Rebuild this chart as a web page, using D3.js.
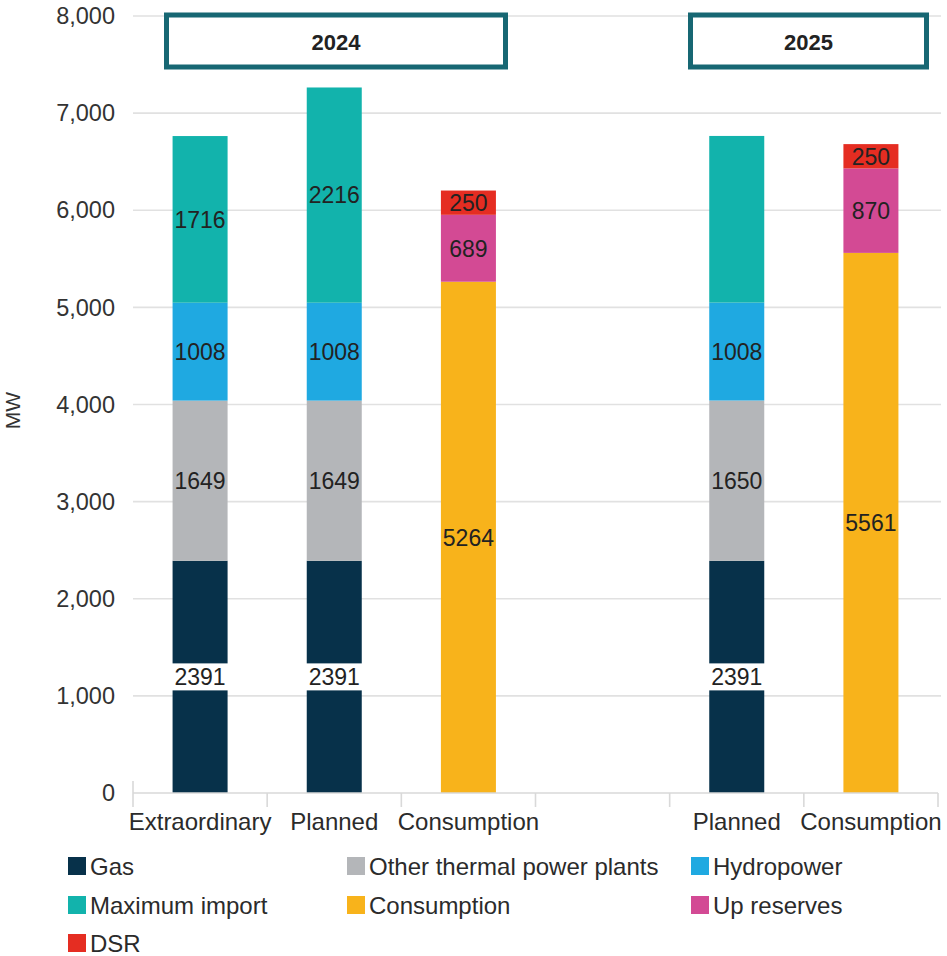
<!DOCTYPE html>
<html>
<head>
<meta charset="utf-8">
<script src="https://cdn.jsdelivr.net/npm/d3@7/dist/d3.min.js"></script>
<style>
  html, body { margin: 0; padding: 0; background: #fff; }
  svg { display: block; font-family: "Liberation Sans", Arial, sans-serif; }
</style>
</head>
<body>
<svg id="chart" width="947" height="956"></svg>
<script>
// Column categories (the fourth slot is an empty spacer between the years)
const categories = ["Extraordinary", "Planned", "Consumption", "", "Planned", "Consumption"];

// Stacked series values per column, MW
const gas          = [2391, 2391, 0, 0, 2391, 0];
const otherThermal = [1649, 1649, 0, 0, 1650, 0];
const hydropower   = [1008, 1008, 0, 0, 1008, 0];
const maxImport    = [1716, 2216, 0, 0, 1716, 0];
const consumption  = [0, 0, 5264, 0, 0, 5561];
const upReserves   = [0, 0, 689, 0, 0, 870];
const dsr          = [0, 0, 250, 0, 0, 250];

// Whether a segment carries a value label
const maxImportLabelled = [true, true, false, false, false, false];

const yTicks = [0, 1000, 2000, 3000, 4000, 5000, 6000, 7000, 8000];
const yearGroups = ["2024", "2025"];

const seriesNames = ["Gas", "Other thermal power plants", "Hydropower",
                     "Maximum import", "Consumption", "Up reserves", "DSR"];
const seriesValues = [gas, otherThermal, hydropower, maxImport, consumption, upReserves, dsr];
const colors = {
  "Gas": "#07314a",
  "Other thermal power plants": "#b4b6b9",
  "Hydropower": "#1fa9e1",
  "Maximum import": "#12b3ac",
  "Consumption": "#f8b31b",
  "Up reserves": "#d34a94",
  "DSR": "#e52d22"
};

const svg = d3.select("#chart");
const plotLeft = 133, plotRight = 938, plotTop = 16, plotBottom = 793;

const x = d3.scaleBand().domain(d3.range(categories.length)).range([plotLeft, plotRight]).paddingInner(0.59).paddingOuter(0.295);
const xTick = d3.scaleBand().domain(d3.range(categories.length)).range([plotLeft, plotRight]);
const y = d3.scaleLinear().domain([0, 8000]).range([plotBottom, plotTop]);

// Gridlines
svg.append("g").selectAll("line").data(yTicks.filter(d => d > 0)).join("line")
  .attr("x1", plotLeft).attr("x2", 941)
  .attr("y1", d => y(d)).attr("y2", d => y(d))
  .attr("stroke", "#e1e1e1").attr("stroke-width", 1.6);

// Y axis tick labels
svg.append("g").selectAll("text").data(yTicks).join("text")
  .attr("x", 115).attr("y", d => y(d)).attr("dy", "0.35em")
  .attr("text-anchor", "end").attr("font-size", 23.5).attr("fill", "#333")
  .text(d => d3.format(",")(d));

svg.append("text")
  .attr("transform", `translate(20,${y(4000) + 6}) rotate(-90)`)
  .attr("text-anchor", "middle").attr("font-size", 21).attr("fill", "#333")
  .text("MW");

// Stack
const rows = categories.map((c, i) => {
  const r = { i };
  seriesNames.forEach((s, k) => r[s] = seriesValues[k][i]);
  return r;
});
const stacked = d3.stack().keys(seriesNames)(rows);

const bars = svg.append("g");
stacked.forEach(layer => {
  bars.append("g").attr("fill", colors[layer.key])
    .selectAll("rect").data(layer.filter(d => d[1] - d[0] > 0)).join("rect")
    .attr("x", d => x(d.data.i)).attr("width", x.bandwidth())
    .attr("y", d => y(d[1])).attr("height", d => y(d[0]) - y(d[1]));
});

// Value labels
const labels = svg.append("g").attr("font-size", 23).attr("fill", "#222").attr("text-anchor", "middle");
stacked.forEach(layer => {
  layer.forEach(d => {
    const v = d[1] - d[0];
    if (v <= 0) return;
    if (layer.key === "Maximum import" && !maxImportLabelled[d.data.i]) return;
    const cx = x(d.data.i) + x.bandwidth() / 2;
    const cy = (y(d[0]) + y(d[1])) / 2;
    if (layer.key === "Gas") {
      labels.append("rect")
        .attr("x", x(d.data.i) - 1).attr("width", x.bandwidth() + 2)
        .attr("y", cy - 13.5).attr("height", 27).attr("fill", "#fff");
    }
    labels.append("text").attr("x", cx).attr("y", cy).attr("dy", "0.36em").text(v);
  });
});

// X axis
const axisG = svg.append("g");
axisG.append("line").attr("x1", plotLeft).attr("x2", plotRight).attr("y1", plotBottom).attr("y2", plotBottom)
  .attr("stroke", "#d9d9d9").attr("stroke-width", 1.6);
axisG.selectAll("line.tick").data(d3.range(categories.length + 1)).join("line")
  .attr("class", "tick")
  .attr("x1", d => plotLeft + d * xTick.bandwidth()).attr("x2", d => plotLeft + d * xTick.bandwidth())
  .attr("y1", d => d === 0 ? plotBottom - 12 : plotBottom).attr("y2", plotBottom + 14)
  .attr("stroke", "#d9d9d9").attr("stroke-width", 1.6);
axisG.selectAll("text").data(categories.map((c, i) => ({ c, i }))).join("text")
  .attr("x", d => xTick(d.i) + xTick.bandwidth() / 2)
  .attr("y", 830)
  .attr("text-anchor", "middle").attr("font-size", 24).attr("fill", "#2b2b2b")
  .text(d => d.c);

// Year header boxes
const headerExtents = [[164, 508], [688, 929]];
yearGroups.forEach((yr, k) => {
  const [x0, x1] = headerExtents[k];
  svg.append("rect").attr("x", x0 + 2.5).attr("y", 15).attr("width", x1 - x0 - 5).attr("height", 52)
    .attr("fill", "#fff").attr("stroke", "#176773").attr("stroke-width", 5);
  svg.append("text").attr("x", (x0 + x1) / 2).attr("y", 42).attr("dy", "0.36em")
    .attr("text-anchor", "middle").attr("font-size", 22).attr("font-weight", "bold").attr("fill", "#222")
    .text(yr);
});

// Legend
const legendCols = [68, 347, 691];
const legendRows = [866, 905, 943];
const legend = svg.append("g");
seriesNames.forEach((s, k) => {
  const lx = legendCols[k % 3], ly = legendRows[Math.floor(k / 3)];
  legend.append("rect").attr("x", lx).attr("y", ly - 9).attr("width", 18).attr("height", 18).attr("fill", colors[s]);
  legend.append("text").attr("x", lx + 22).attr("y", ly).attr("dy", "0.36em")
    .attr("font-size", 24).attr("fill", "#2b2b2b").text(s);
});
</script>
</body>
</html>
